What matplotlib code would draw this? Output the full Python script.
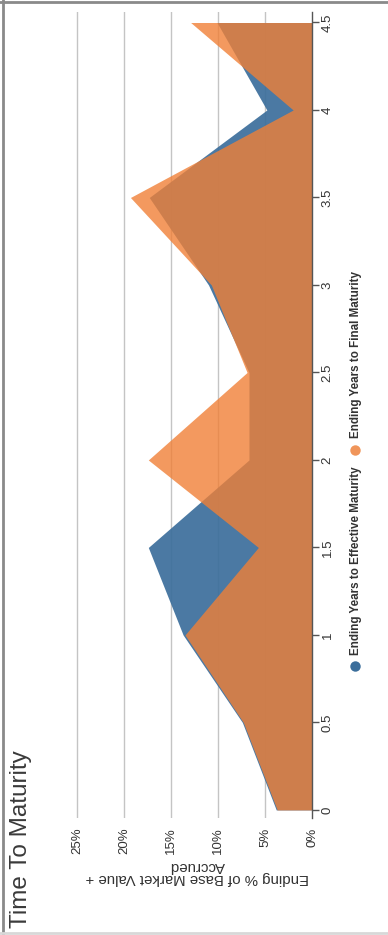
import matplotlib
matplotlib.use("Agg")
import matplotlib.pyplot as plt
from matplotlib import font_manager
from matplotlib.lines import Line2D

# ---- data ----
years = [0, 0.5, 1, 1.5, 2, 2.5, 3, 3.5, 4, 4.5]
effective_pct = [3.8, 7.4, 13.7, 17.4, 6.7, 6.7, 11.0, 17.3, 4.8, 10.1]
final_pct = [3.7, 7.3, 13.5, 5.7, 17.4, 6.9, 10.7, 19.3, 2.0, 12.9]
pct_ticks = [0, 5, 10, 15, 20, 25]
pct_labels = ["0%", "5%", "10%", "15%", "20%", "25%"]
year_ticks = [0, 0.5, 1, 1.5, 2, 2.5, 3, 3.5, 4, 4.5]
year_labels = ["0", "0.5", "1", "1.5", "2", "2.5", "3", "3.5", "4", "4.5"]
series_names = ["Ending Years to Effective Maturity", "Ending Years to Final Maturity"]
title = "Time To Maturity"
value_label = "Ending % of Base Market Value +\nAccrued"

BLUE = "#3B6E9B"
ORANGE = "#F08037"

names = {f.name for f in font_manager.fontManager.ttflist}
base = ["Liberation Sans", "DejaVu Sans"]
narrow = "Liberation Sans Narrow" in names
leg_family = ["Liberation Sans Narrow", "DejaVu Sans"] if narrow else base
plt.rcParams["font.family"] = base

W, H = 388, 935
fig = plt.figure(figsize=(W / 100, H / 100), dpi=100)
fig.patch.set_facecolor("white")

# plot area in pixel coordinates
left, right, top, bottom = 74, 312, 12, 818
ax = fig.add_axes([left / W, 1 - bottom / H, (right - left) / W, (bottom - top) / H])
ax.set_xlim(25.3, 0)          # 0% on the right, values grow to the left
ax.set_ylim(-0.046, 4.56)     # years grow upward

ax.fill_betweenx(years, 0, effective_pct, color=BLUE, alpha=0.92, lw=0, zorder=2)
ax.fill_betweenx(years, 0, final_pct, color=ORANGE, alpha=0.8, lw=0, zorder=3)

for s in ["top", "left", "bottom"]:
    ax.spines[s].set_visible(False)
ax.spines["right"].set_color("#555555")
ax.spines["right"].set_linewidth(1.0)
ax.spines["right"].set_zorder(5)

ax.set_xticks(pct_ticks)
ax.set_xticklabels(pct_labels, rotation=90, fontsize=9.5, color="#333333")
ax.tick_params(axis="x", length=0, pad=7)
for p in pct_ticks[1:]:
    ax.axvline(p, color="#C4C4C4", lw=1.0, zorder=1)

ax.yaxis.tick_right()
ax.set_yticks(year_ticks)
ax.set_yticklabels(year_labels, rotation=90, fontsize=9.5, color="#333333", va="center")
ax.tick_params(axis="y", direction="out", length=5, width=1, color="#555555", pad=2)

# overlay for titles, legend and frame in pixel coordinates
ov = fig.add_axes([0, 0, 1, 1], zorder=-1)
ov.set_xlim(0, W)
ov.set_ylim(H, 0)
ov.axis("off")

ov.text(21, 928, title, rotation=90, ha="center", va="bottom",
        fontsize=17.5, color="#3A3A3A")
ov.text(197, 872, value_label, rotation=180, ha="center", va="center",
        multialignment="center", fontsize=10.8, color="#333333", linespacing=0.9)

# legend (rotated); size the text so the first entry is ~188 px long
leg_x = 355
renderer = fig.canvas.get_renderer()
probe = ov.text(0, 0, series_names[0], fontsize=10, fontweight="bold", family=leg_family)
w10 = probe.get_window_extent(renderer).width
probe.remove()
leg_size = 10 * 188.0 / w10

for col, name, ymark, ytxt in [(BLUE, series_names[0], 666, 655),
                               ("#F0955A", series_names[1], 450, 438)]:
    ov.plot([leg_x], [ymark], marker="o", ms=7.5, color=col, mec="none")
    ov.text(leg_x + 0.5, ytxt, name, rotation=90, ha="center", va="bottom",
            fontsize=leg_size, fontweight="bold", color="#333333", family=leg_family)

# scan frame
ov.add_line(Line2D([3, 3], [0, H], color="#8A8A8A", lw=2))
ov.add_line(Line2D([0, W], [2, 2], color="#8A8A8A", lw=2))
ov.add_line(Line2D([0, W], [933, 933], color="#D8D8D8", lw=2))

fig.savefig("out.png", dpi=100, facecolor="white")
